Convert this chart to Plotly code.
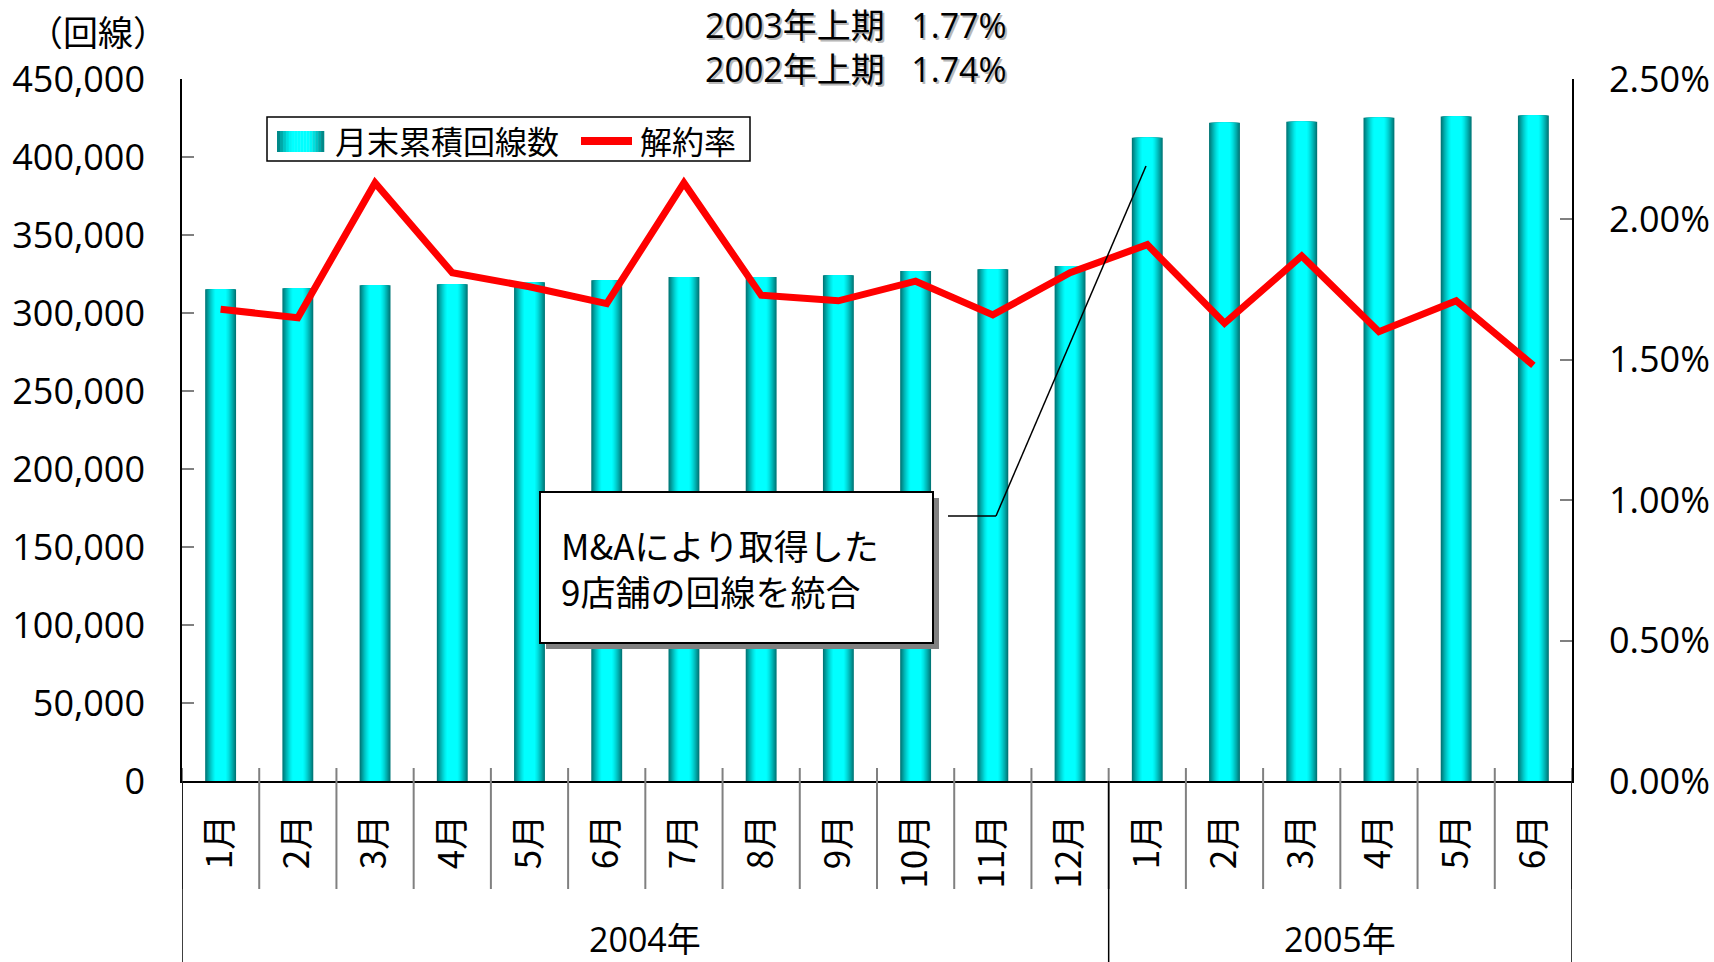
import plotly.graph_objects as go

# ---------------- data ----------------
years = ["2004年"] * 12 + ["2005年"] * 6
months = ["1月", "2月", "3月", "4月", "5月", "6月", "7月", "8月", "9月", "10月", "11月", "12月",
          "1月", "2月", "3月", "4月", "5月", "6月"]
lines_total = [315200, 315900, 317800, 318500, 319700, 321000, 323000, 323000, 324200,
               327000, 328100, 330200, 412300, 421900, 422600, 425200, 426000, 426600]
churn_rate = [1.68, 1.65, 2.13, 1.81, 1.76, 1.70, 2.13, 1.73, 1.71, 1.78, 1.66, 1.81,
              1.91, 1.63, 1.87, 1.60, 1.71, 1.48]
series_names = ["月末累積回線数", "解約率"]
header_lines = ["2003年上期  1.77%", "2002年上期  1.74%"]
unit_label = "（回線）"
note_lines = ["M&Aにより取得した", "9店舗の回線を統合"]

# ---------------- geometry helpers (pixels -> paper) ----------------
W_FIG, H_FIG = 1714, 962
L, R, T, B = 182, 1572, 79, 781
PW, PH = R - L, B - T


def px(x):
    return (x - L) / PW


def py(y):
    return (B - y) / PH


FONT_NUM = "Open Sans, Noto Sans CJK JP, sans-serif"
FONT_JP = "Noto Sans CJK JP, sans-serif"

x = list(range(len(months)))
BAR_W = 0.40


def grad(t):
    """t=0 centre, t=1 edge -> colour of the cylinder shading"""
    f = max(0.0, min(1.0, (abs(t) - 0.35) / 0.65)) ** 1.3
    v = int(round(255 - 135 * f))
    return f"rgb(0,{v},{v})"


fig = go.Figure()

N = 14
for k in range(N):
    t = 1 - k / N
    fig.add_trace(go.Bar(
        x=x, y=lines_total, width=BAR_W * t,
        marker=dict(color=grad(t), line=dict(width=0)),
        name=series_names[0], showlegend=False, hoverinfo="skip" if k else None,
    ))

fig.add_trace(go.Scatter(
    x=x, y=churn_rate, yaxis="y2", mode="lines",
    line=dict(color="#ff0000", width=7), name=series_names[1], showlegend=False,
))

shapes = []
annotations = []

# month separators
for i in range(len(months) + 1):
    shapes.append(dict(type="line", xref="x", yref="paper", x0=i - 0.5, x1=i - 0.5,
                       y0=py(768), y1=py(889), line=dict(color="#808080", width=2)))
# year dividers + year labels
groups = []
for i, yv in enumerate(years):
    if not groups or groups[-1][0] != yv:
        groups.append([yv, i, i])
    else:
        groups[-1][2] = i
for g in groups:
    shapes.append(dict(type="line", xref="x", yref="paper", x0=g[1] - 0.5, x1=g[1] - 0.5,
                       y0=0, y1=py(965), line=dict(color="#000000", width=1.5)))
    annotations.append(dict(xref="x", yref="paper", x=(g[1] + g[2]) / 2, y=py(939),
                            text=g[0], showarrow=False, xanchor="center", yanchor="middle",
                            font=dict(family=FONT_NUM, size=34, color="#000")))
shapes.append(dict(type="line", xref="x", yref="paper", x0=len(months) - 0.5, x1=len(months) - 0.5,
                   y0=0, y1=py(965), line=dict(color="#000000", width=1.5)))

# custom legend
shapes.append(dict(type="rect", xref="paper", yref="paper", x0=px(267), x1=px(750),
                   y0=py(161), y1=py(117), line=dict(color="#000", width=1.5), fillcolor="white",
                   layer="above"))
nsl = 16
sx0, sx1 = 277, 324
for j in range(nsl):
    a = sx0 + (sx1 - sx0) * j / nsl
    b = sx0 + (sx1 - sx0) * (j + 1) / nsl
    tc = ((a + b) / 2 - (sx0 + sx1) / 2) / ((sx1 - sx0) / 2)
    shapes.append(dict(type="rect", xref="paper", yref="paper", x0=px(a), x1=px(b) + 0.0002,
                       y0=py(152), y1=py(131), line=dict(width=0), fillcolor=grad(tc)))
shapes.append(dict(type="line", xref="paper", yref="paper", x0=px(581), x1=px(632),
                   y0=py(141), y1=py(141), line=dict(color="#ff0000", width=8)))
annotations.append(dict(xref="paper", yref="paper", x=px(333), y=py(140), text=series_names[0],
                        showarrow=False, xanchor="left", yanchor="middle",
                        font=dict(family=FONT_JP, size=32, color="#000")))
annotations.append(dict(xref="paper", yref="paper", x=px(638), y=py(140), text=series_names[1],
                        showarrow=False, xanchor="left", yanchor="middle",
                        font=dict(family=FONT_JP, size=32, color="#000")))

# note box with shadow
shapes.append(dict(type="rect", xref="paper", yref="paper", x0=px(546), x1=px(939),
                   y0=py(649), y1=py(498), line=dict(width=0), fillcolor="#808080"))
shapes.append(dict(type="rect", xref="paper", yref="paper", x0=px(540), x1=px(933),
                   y0=py(643), y1=py(492), line=dict(color="#000", width=2), fillcolor="white"))
annotations.append(dict(xref="paper", yref="paper", x=px(559), y=py(567.5),
                        text="<br>".join(note_lines), align="left",
                        showarrow=False, xanchor="left", yanchor="middle",
                        font=dict(family=FONT_JP, size=35, color="#000")))
# connector
shapes.append(dict(type="line", xref="paper", yref="paper", x0=px(948), x1=px(996),
                   y0=py(516), y1=py(516), line=dict(color="#000", width=1.5)))
shapes.append(dict(type="line", xref="paper", yref="paper", x0=px(996), x1=px(1146),
                   y0=py(516), y1=py(166), line=dict(color="#000", width=1.5)))

# header with shadow
for txt, yy in zip(header_lines, [25, 69]):
    shown = txt.replace("  ", "\u00a0\u00a0\u00a0")
    for dx, col in [(2, "#b8b8b8"), (0, "#000")]:
        annotations.append(dict(xref="paper", yref="paper", x=px(856), y=py(yy), text=shown,
                                showarrow=False, xanchor="center", yanchor="middle",
                                xshift=dx, yshift=-dx,
                                font=dict(family=FONT_NUM, size=34, color=col)))

annotations.append(dict(xref="paper", yref="paper", x=px(98), y=py(30), text=unit_label,
                        showarrow=False, xanchor="center", yanchor="middle",
                        font=dict(family=FONT_JP, size=35, color="#000")))

fig.update_layout(
    width=W_FIG, height=H_FIG, autosize=False,
    margin=dict(l=L, r=W_FIG - R, t=T, b=H_FIG - B, pad=0, autoexpand=False),
    paper_bgcolor="white", plot_bgcolor="white",
    barmode="overlay", showlegend=False,
    xaxis=dict(range=[-0.5, len(months) - 0.5], tickmode="array", tickvals=x, ticktext=months,
               tickangle=-90, ticks="", showline=True, linecolor="#000", linewidth=1.5,
               showgrid=False, zeroline=False, ticklabelstandoff=18, automargin=False,
               tickfont=dict(family=FONT_JP, size=35, color="#000")),
    yaxis=dict(range=[0, 450000], dtick=50000, tickformat=",", ticks="inside", ticklen=12,
               tickwidth=2, tickcolor="#808080", showline=True, linecolor="#000", linewidth=1.5,
               showgrid=False, zeroline=False, ticklabelstandoff=28, automargin=False,
               tickfont=dict(family=FONT_NUM, size=36, color="#000")),
    yaxis2=dict(range=[0, 2.5], dtick=0.5, tickformat=".2f", ticksuffix="%", overlaying="y",
                side="right", ticks="inside", ticklen=12, tickwidth=2, tickcolor="#808080",
                showline=True, linecolor="#000", linewidth=1.5, showgrid=False, zeroline=False,
                ticklabelstandoff=28, automargin=False,
                tickfont=dict(family=FONT_NUM, size=36, color="#000")),
    shapes=shapes, annotations=annotations,
)

fig.write_html("out.html", config={"displayModeBar": False},
               post_script="document.body.style.margin='0';document.body.style.overflow='hidden';")
